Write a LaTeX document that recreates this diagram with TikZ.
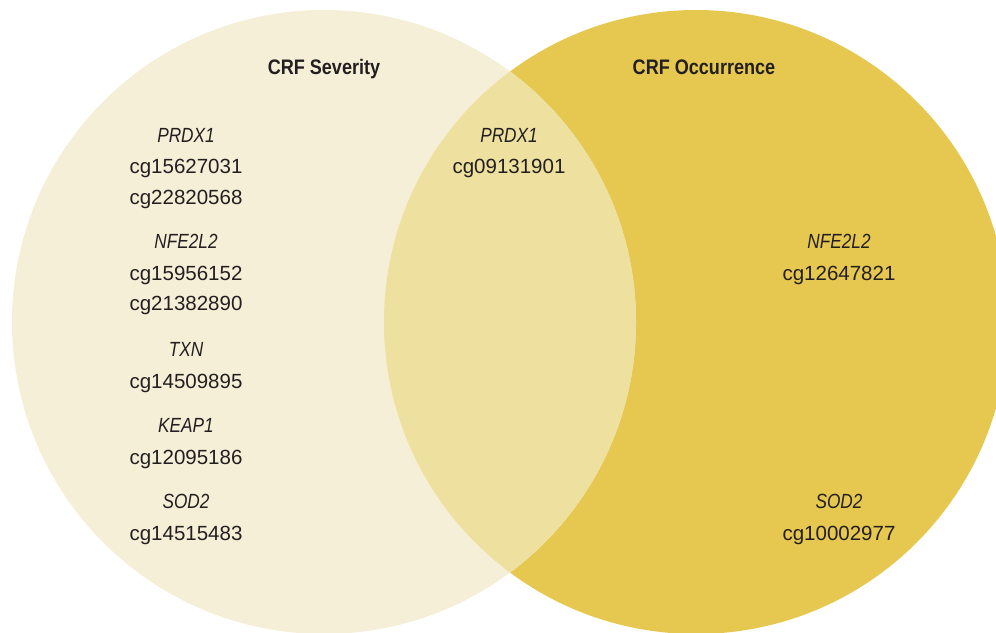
\documentclass[tikz,border=0pt]{standalone}
\usepackage{fontspec}
\setmainfont{Liberation Sans}
\newfontfamily\titlefont[FakeStretch=0.86]{Liberation Sans}
\newfontfamily\genefont[FakeStretch=0.84]{Liberation Sans}
\definecolor{cream}{HTML}{F5EFD7}
\definecolor{gold}{HTML}{E6C850}
\definecolor{overlap}{HTML}{EEE09F}
\definecolor{ink}{HTML}{231F20}
\begin{document}
\begin{tikzpicture}[x=1pt,y=-1pt,
  lbl/.style={text=ink,font=\fontsize{20.5}{24}\selectfont,inner sep=0pt,anchor=base},
  gene/.style={lbl,font=\genefont\itshape\fontsize{20.5}{24}\selectfont},
  ttl/.style={text=ink,font=\titlefont\bfseries\fontsize{21}{24}\selectfont,inner sep=0pt,anchor=base}]
\useasboundingbox (0,0) rectangle (996,632);
\begin{scope}
\clip (0,0) rectangle (996,632);
\fill[gold] (696,322) circle (312);
\fill[cream] (324,322) circle (312);
\begin{scope}
\clip (696,322) circle (312);
\fill[overlap] (324,322) circle (312);
\end{scope}
\end{scope}
\node[ttl] (t1) at (324,74) {CRF Severity};
\node[ttl] (t2) at (704,74) {CRF Occurrence};
% left
\node[gene] (l1) at (186,142) {PRDX1};
\node[lbl] (l2) at (186,173) {cg15627031};
\node[lbl] (l3) at (186,204) {cg22820568};
\node[gene] (l4) at (186,248) {NFE2L2};
\node[lbl] (l5) at (186,280) {cg15956152};
\node[lbl] (l6) at (186,310) {cg21382890};
\node[gene] (l7) at (186,356) {TXN};
\node[lbl] (l8) at (186,388) {cg14509895};
\node[gene] (l9) at (186,432) {KEAP1};
\node[lbl] (l10) at (186,464) {cg12095186};
\node[gene] (l11) at (186,508) {SOD2};
\node[lbl] (l12) at (186,540) {cg14515483};
% middle
\node[gene] (m1) at (509,142) {PRDX1};
\node[lbl] (m2) at (509,173) {cg09131901};
% right
\node[gene] (r1) at (839,248) {NFE2L2};
\node[lbl] (r2) at (839,280) {cg12647821};
\node[gene] (r3) at (839,508) {SOD2};
\node[lbl] (r4) at (839,540) {cg10002977};
\end{tikzpicture}
\end{document}
